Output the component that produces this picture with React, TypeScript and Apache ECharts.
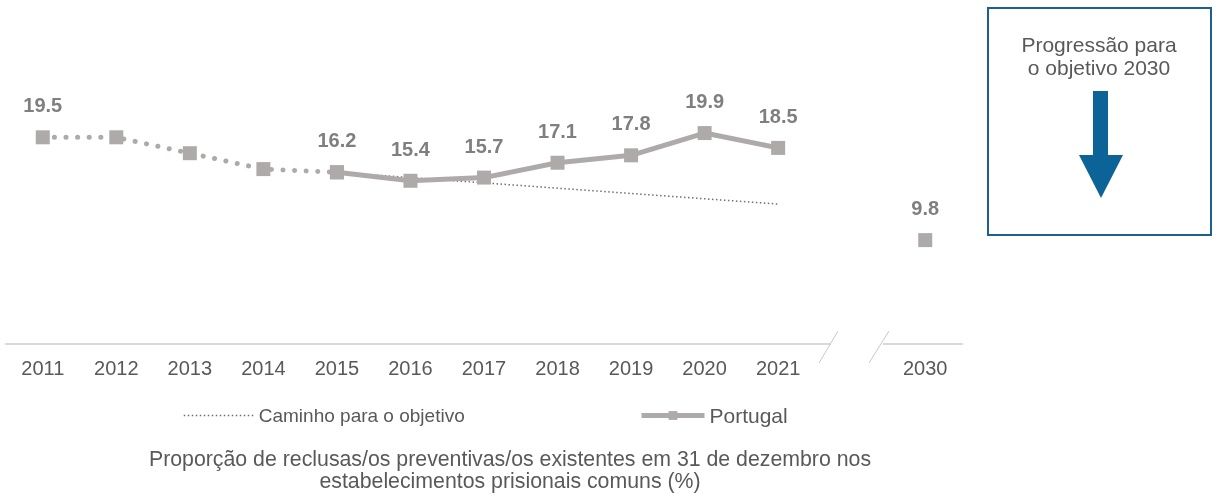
import React, { useEffect, useRef } from "react";
import * as echarts from "echarts";

const categories = ["2011", "2012", "2013", "2014", "2015", "2016", "2017", "2018", "2019", "2020", "2021", "", "2030"];
const historic = [19.5, 19.5, 18.0, 16.5, 16.2, null, null, null, null, null, null, null, null];
const portugal = [null, null, null, null, 16.2, 15.4, 15.7, 17.1, 17.8, 19.9, 18.5, null, null];
const target2030 = [null, null, null, null, null, null, null, null, null, null, null, null, 9.8];
const pathToTarget = [null, null, null, null, 16.2, 15.7, 15.2, 14.7, 14.2, 13.7, 13.2, null, null];

const GREY = "#aeaaaa";
const LABEL = "#7f7f7f";
const TEXT = "#595959";
const FONT = "'Liberation Sans', Arial, sans-serif";

export default function App() {
  const ref = useRef<HTMLDivElement>(null);
  useEffect(() => {
    if (!ref.current) return;
    const chart = echarts.init(ref.current, null, { renderer: "svg" });
    const dataLabel = {
      show: true,
      position: "top",
      distance: 15,
      color: LABEL,
      fontSize: 20,
      fontWeight: "bold",
      fontFamily: FONT,
      formatter: (p: any) => Number(p.value).toFixed(1),
    };
    chart.setOption({
      animation: false,
      textStyle: { fontFamily: FONT },
      grid: { left: 6, right: 252, top: 26, bottom: 151, containLabel: false },
      xAxis: {
        type: "category",
        data: categories,
        boundaryGap: true,
        axisLine: { show: true, lineStyle: { color: "#d9d9d9", width: 2 } },
        axisTick: { show: false },
        axisLabel: { color: TEXT, fontSize: 20, fontFamily: FONT, margin: 14, interval: 0 },
      },
      yAxis: { type: "value", min: 0, max: 30, show: false, splitLine: { show: false } },
      legend: [
        {
          left: 178,
          top: 401,
          data: ["Caminho para o objetivo"],
          itemWidth: 70,
          itemHeight: 10,
          itemStyle: { opacity: 0 },
          lineStyle: { width: 1.5 },
          textStyle: { color: TEXT, fontSize: 19, fontFamily: FONT },
        },
        {
          left: 634,
          top: 400,
          data: ["Portugal"],
          itemWidth: 63,
          itemHeight: 11,
          lineStyle: { width: 5 },
          textStyle: { color: TEXT, fontSize: 21, fontFamily: FONT },
        },
      ],
      series: [
        {
          name: "Caminho para o objetivo",
          type: "line",
          data: pathToTarget,
          symbol: "none",
          z: 1,
          lineStyle: { color: "#6f6f6f", width: 1.5, type: [1.5, 2.5] },
          itemStyle: { color: "#6f6f6f" },
        },
        {
          name: "Histórico",
          type: "line",
          data: historic.map((v, i) => (i === 0 ? { value: v, label: dataLabel } : v)),
          symbol: "rect",
          symbolSize: 14,
          z: 2,
          itemStyle: { color: GREY },
          lineStyle: { color: GREY, width: 5, type: [0.1, 11.5], cap: "round" },
          label: { show: false },
        },
        {
          name: "Portugal",
          type: "line",
          data: portugal,
          symbol: "rect",
          symbolSize: 14,
          z: 3,
          itemStyle: { color: GREY },
          lineStyle: { color: GREY, width: 5 },
          label: dataLabel,
        },
        {
          name: "Objetivo 2030",
          type: "line",
          data: target2030,
          symbol: "rect",
          symbolSize: 14,
          z: 3,
          itemStyle: { color: GREY },
          lineStyle: { width: 0 },
          label: dataLabel,
        },
      ],
      graphic: [
        { type: "rect", z: 100, shape: { x: 831, y: 338, width: 52, height: 12 }, style: { fill: "#ffffff" } },
        { type: "line", z: 101, shape: { x1: 819, y1: 363, x2: 838, y2: 331 }, style: { stroke: "#c8c8c8", lineWidth: 1 } },
        { type: "line", z: 101, shape: { x1: 869, y1: 363, x2: 889, y2: 331 }, style: { stroke: "#c8c8c8", lineWidth: 1 } },
        {
          type: "text",
          z: 100,
          x: 510,
          y: 448,
          style: {
            text: "Proporção de reclusas/os preventivas/os existentes em 31 de dezembro nos\nestabelecimentos prisionais comuns (%)",
            fill: TEXT,
            font: `21.3px ${FONT}`,
            align: "center",
            verticalAlign: "top",
            lineHeight: 22,
          },
        },
        {
          type: "rect",
          z: 100,
          shape: { x: 988, y: 8, width: 223, height: 227 },
          style: { fill: "#ffffff", stroke: "#1f5f8f", lineWidth: 2 },
        },
        {
          type: "text",
          z: 101,
          x: 1099,
          y: 33,
          style: {
            text: "Progressão para\no objetivo 2030",
            fill: TEXT,
            font: `21px ${FONT}`,
            align: "center",
            verticalAlign: "top",
            lineHeight: 23,
          },
        },
        { type: "rect", z: 101, shape: { x: 1093, y: 91, width: 15, height: 65 }, style: { fill: "#0b6398" } },
        {
          type: "polygon",
          z: 101,
          shape: { points: [[1079, 155], [1123, 155], [1101, 198]] },
          style: { fill: "#0b6398" },
        },
      ],
    });
    return () => chart.dispose();
  }, []);
  return <div ref={ref} style={{ position: "fixed", left: 0, top: 0, width: 1214, height: 495 }} />;
}
